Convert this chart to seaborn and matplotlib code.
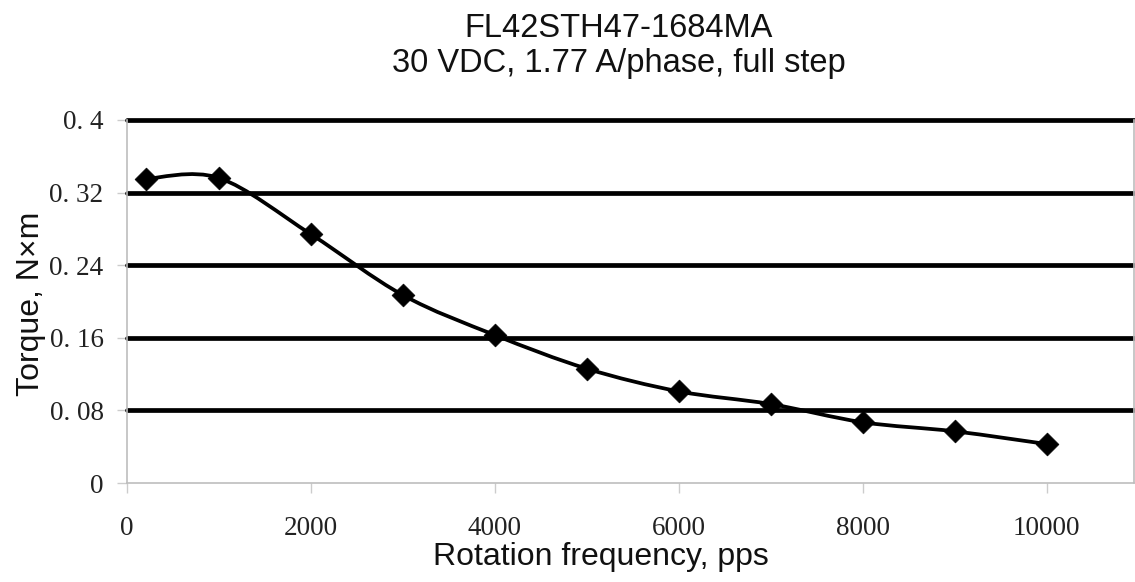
"""Torque vs rotation frequency curve for FL42STH47-1684MA."""

import matplotlib
matplotlib.use("Agg")

import matplotlib.pyplot as plt
import pandas as pd
import seaborn as sns
from matplotlib.path import Path
from matplotlib.patches import PathPatch

frequency_pps = [200, 1000, 2000, 3000, 4000, 5000, 6000, 7000, 8000, 9000, 10000]
torque_nm = [0.335, 0.336, 0.274, 0.207, 0.163, 0.126, 0.101, 0.087, 0.067, 0.057, 0.043]

y_ticks = [0, 0.08, 0.16, 0.24, 0.32, 0.4]
y_tick_labels = ["0", "0. 08", "0. 16", "0. 24", "0. 32", "0. 4"]
x_ticks = [0, 2000, 4000, 6000, 8000, 10000]
x_tick_labels = ["0", "2000", "4000", "6000", "8000", "10000"]

df = pd.DataFrame({"freq": frequency_pps, "torque": torque_nm})


def smooth_path(xs, ys):
    # Catmull-Rom style smoothing, like a spreadsheet "smoothed line"
    pts = list(zip(xs, ys))
    verts = [pts[0]]
    codes = [Path.MOVETO]
    n = len(pts)
    for i in range(n - 1):
        p0 = pts[i - 1] if i > 0 else pts[i]
        p1 = pts[i]
        p2 = pts[i + 1]
        p3 = pts[i + 2] if i + 2 < n else pts[i + 1]
        c1 = (p1[0] + (p2[0] - p0[0]) / 6, p1[1] + (p2[1] - p0[1]) / 6)
        c2 = (p2[0] - (p3[0] - p1[0]) / 6, p2[1] - (p3[1] - p1[1]) / 6)
        verts += [c1, c2, p2]
        codes += [Path.CURVE4] * 3
    return Path(verts, codes)


sns.set_style("white")
plt.rcParams["font.family"] = ["Liberation Sans", "DejaVu Sans"]

fig = plt.figure(figsize=(11.35, 5.82), dpi=100)
ax = fig.add_axes([0.112, 0.170, 0.887, 0.624])

for y in y_ticks[1:]:
    ax.axhline(y, color="black", linewidth=3.4, zorder=1, clip_on=False)

ax.add_patch(PathPatch(smooth_path(frequency_pps, torque_nm), facecolor="none",
                       edgecolor="black", linewidth=2.7, zorder=3))
sns.scatterplot(data=df, x="freq", y="torque", marker="D", s=135, color="black",
                edgecolor="black", linewidth=0.5, ax=ax, zorder=4)

ax.set_xlim(0, 10950)
ax.set_ylim(0, 0.4)
ax.set_xticks(x_ticks)
ax.set_xticklabels(x_tick_labels, family="Liberation Serif", fontsize=19.5, color="#222222")
ax.set_yticks(y_ticks)
ax.set_yticklabels(y_tick_labels, family="Liberation Serif", fontsize=19.5, color="#222222")
ax.tick_params(axis="x", length=7, width=1, color="#cccccc", pad=17, direction="out", bottom=True)
ax.tick_params(axis="y", length=7, width=1, color="#cccccc", pad=10, direction="out", left=True)

for side in ["left", "bottom", "right"]:
    ax.spines[side].set_color("#bdbdbd")
    ax.spines[side].set_linewidth(1.2)
ax.spines["top"].set_visible(False)

ax.set_xlabel("")
ax.set_ylabel("")
fig.text(0.529, 0.043, "Rotation frequency, pps", ha="center", va="center", fontsize=23, color="#111111")
fig.text(0.027, 0.478, "Torque, N×m", ha="center", va="center", rotation=90, fontsize=23, color="#111111")
fig.text(0.545, 0.921, "FL42STH47-1684MA\n30 VDC, 1.77 A/phase, full step",
         ha="center", va="center", fontsize=23.5, linespacing=1.2, color="#111111")

fig.savefig("out.png", dpi=100)
plt.close(fig)
